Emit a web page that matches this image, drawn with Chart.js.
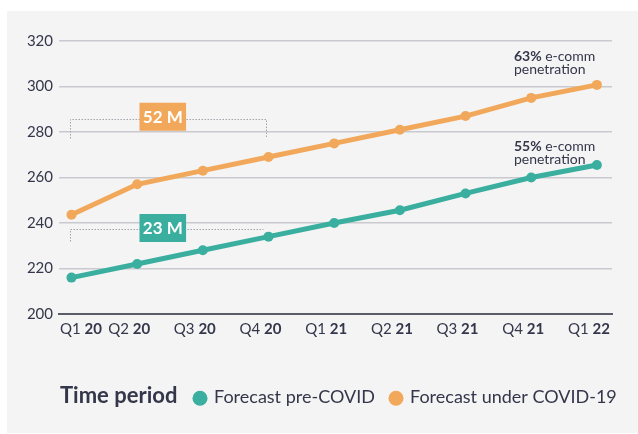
<!DOCTYPE html>
<html>
<head>
<meta charset="utf-8">
<script src="https://cdn.jsdelivr.net/npm/chart.js"></script>
<style>
  html, body { margin: 0; padding: 0; background: #fff; }
  canvas { display: block; }
</style>
</head>
<body>
<canvas id="myChart" width="638" height="434"></canvas>
<script>
// 데이터
const quarters = ["Q1", "Q2", "Q3", "Q4", "Q1", "Q2", "Q3", "Q4", "Q1"];
const years = ["20", "20", "20", "20", "21", "21", "21", "21", "22"];
const preCovid = [216, 222, 228, 234, 240, 245.6, 253, 260, 265.5];
const underCovid = [243.6, 257, 263, 269, 275, 281, 287, 295, 300.7];
const yTicks = [200, 220, 240, 260, 280, 300, 320];

const teal = "#3aaf9f";
const orange = "#f2a85a";
const textColor = "#34364a";
const font = "Lato";

// 배경, 라벨, 주석 그리기
const extras = {
    id: "extras",
    beforeDraw(chart) {
        const c = chart.ctx;
        c.save();
        c.fillStyle = "#fff";
        c.fillRect(0, 0, chart.width, chart.height);
        c.fillStyle = "#f4f4f4";
        c.fillRect(7, 11, 631, 422);
        c.restore();
    },
    afterDraw(chart) {
        const c = chart.ctx;
        const xs = chart.scales.x;
        const ys = chart.scales.y;
        c.save();

        // x 라벨 (Q 일반 + 연도 굵게)
        c.textBaseline = "alphabetic";
        c.fillStyle = textColor;
        for (let i = 0; i < quarters.length; i++) {
            c.font = "15px " + font;
            const a = quarters[i] + " ";
            const wa = c.measureText(a).width;
            c.font = "bold 15px " + font;
            const wb = c.measureText(years[i]).width;
            const w = wa + wb;
            let cx = xs.getPixelForValue(i) - 8;
            if (cx - w / 2 < chart.chartArea.left + 1) cx = chart.chartArea.left + 1 + w / 2;
            const x0 = cx - w / 2;
            c.font = "15px " + font;
            c.fillText(a, x0, 334);
            c.font = "bold 15px " + font;
            c.fillText(years[i], x0 + wa, 334);
        }

        // 점선 괄호
        c.strokeStyle = "#a3a4ab";
        c.lineWidth = 1;
        c.setLineDash([1.5, 1.5]);
        const br = (x1, x2, y, h, right) => {
            const px1 = Math.round(xs.getPixelForValue(x1)) + 0.5;
            const px2 = Math.round(xs.getPixelForValue(x2)) + 0.5;
            const py = Math.round(ys.getPixelForValue(y)) + 0.5;
            c.beginPath();
            c.moveTo(px1, py + h);
            c.lineTo(px1, py);
            c.lineTo(px2, py);
            if (right) c.lineTo(px2, py + h);
            c.stroke();
        };
        br(-0.03, 2.96, 285.6, 19, true);
        br(-0.03, 2.92, 237.2, 12, false);
        c.setLineDash([]);

        // 차이 상자
        const box = (x, y, label, color) => {
            const px = xs.getPixelForValue(x);
            const py = ys.getPixelForValue(y);
            c.fillStyle = color;
            c.fillRect(px - 23.3, py - 14, 46.6, 28);
            c.fillStyle = "#fff";
            c.font = "bold 17px " + font;
            c.textAlign = "center";
            c.textBaseline = "middle";
            c.fillText(label, px, py + 1);
        };
        box(1.39, 286.7, "52 M", orange);
        box(1.39, 237.8, "23 M", teal);

        // 침투율 주석
        c.textAlign = "left";
        c.textBaseline = "alphabetic";
        const note = (i, series, pct, dy) => {
            const px = xs.getPixelForValue(i) - 83;
            const py = ys.getPixelForValue(series[i]) + dy;
            c.fillStyle = textColor;
            c.font = "bold 14px " + font;
            c.fillText(pct, px, py);
            const w = c.measureText(pct).width;
            c.font = "14px " + font;
            c.fillText(" e-comm", px + w, py);
            c.fillText("penetration", px, py + 13);
        };
        note(8, underCovid, "63%", -24);
        note(8, preCovid, "55%", -14);

        // 범례
        c.fillStyle = textColor;
        c.font = "bold 22px " + font;
        c.fillText("Time period", 60, 403);
        c.beginPath();
        c.fillStyle = teal;
        c.arc(200, 398.3, 7.5, 0, Math.PI * 2);
        c.fill();
        c.beginPath();
        c.fillStyle = orange;
        c.arc(396, 398.3, 7.5, 0, Math.PI * 2);
        c.fill();
        c.fillStyle = textColor;
        c.font = "18px " + font;
        c.fillText("Forecast pre-COVID", 214, 403);
        c.fillText("Forecast under COVID-19", 410, 403);

        c.restore();
    }
};

const ctx = document.getElementById("myChart");

new Chart(ctx, {
    type: "line",
    data: {
        datasets: [{
            label: "Forecast under COVID-19",
            data: underCovid.map((v, i) => ({ x: i, y: v })),
            borderColor: orange,
            backgroundColor: orange,
            borderWidth: 5,
            pointRadius: 5,
            pointBorderWidth: 0,
            tension: 0
        }, {
            label: "Forecast pre-COVID",
            data: preCovid.map((v, i) => ({ x: i, y: v })),
            borderColor: teal,
            backgroundColor: teal,
            borderWidth: 5,
            pointRadius: 5,
            pointBorderWidth: 0,
            tension: 0
        }]
    },
    options: {
        responsive: false,
        animation: false,
        devicePixelRatio: 1,
        layout: { padding: { left: 0, right: 26, top: 41, bottom: 0 } },
        plugins: {
            legend: { display: false },
            tooltip: { enabled: false }
        },
        scales: {
            x: {
                type: "linear",
                min: -0.19,
                max: 8.23,
                grid: { display: false },
                border: { display: true, color: "#5b5d66", width: 2 },
                ticks: { display: false },
                afterFit: (s) => { s.height = 120; }
            },
            y: {
                min: 200,
                max: 320,
                afterBuildTicks: (s) => { s.ticks = yTicks.map(v => ({ value: v })); },
                grid: { color: "#c9cacf", lineWidth: 1.5, drawTicks: false },
                border: { display: false },
                ticks: { padding: 6, color: textColor, font: { family: font, size: 15 } },
                afterFit: (s) => { s.width = 59; }
            }
        }
    },
    plugins: [extras]
});
</script>
</body>
</html>
